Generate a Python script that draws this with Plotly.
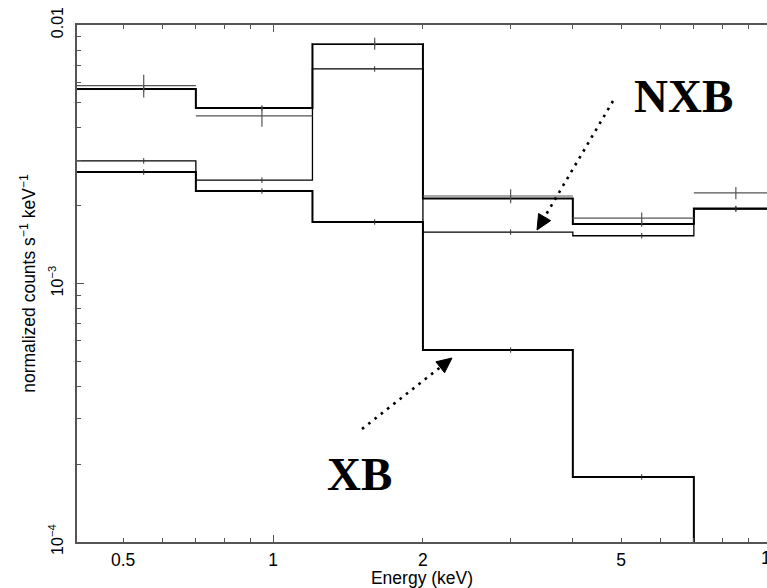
import plotly.graph_objects as go

# ---- data ----
bin_lo = [0.4, 0.7, 1.2, 2.0, 4.0, 7.0]
bin_hi = [0.7, 1.2, 2.0, 4.0, 7.0, 10.0]
bin_center = [0.55, 0.95, 1.6, 3.0, 5.5, 8.5]

data_rate = [5.83e-3, 4.45e-3, 8.48e-3, 2.18e-3, 1.79e-3, 2.24e-3]
data_err = [0.59e-3, 0.41e-3, 0.45e-3, 0.135e-3, 0.093e-3, 0.123e-3]

total_model = [5.66e-3, 4.77e-3, 8.44e-3, 2.13e-3, 1.70e-3, 1.95e-3]
nxb_model = [2.98e-3, 2.51e-3, 6.76e-3, 1.58e-3, 1.53e-3, 1.94e-3]
xb_model = [2.70e-3, 2.28e-3, 1.73e-3, 5.53e-4, 1.785e-4, 3.0e-5]

x_tick_vals = [0.5, 1, 2, 5, 10]
x_tick_text = ["0.5", "1", "2", "5", "10"]
x_minor_vals = [0.6, 0.7, 0.8, 0.9, 3, 4, 6, 7, 8, 9]
y_tick_vals = [1e-4, 1e-3, 1e-2]
y_tick_text = ["10<sup>−4</sup>", "10<sup>−3</sup>", "0.01"]
y_minor_vals = [2e-4, 3e-4, 4e-4, 5e-4, 6e-4, 7e-4, 8e-4, 9e-4,
                2e-3, 3e-3, 4e-3, 5e-3, 6e-3, 7e-3, 8e-3, 9e-3]

# ---- layout geometry ----
W, H = 767, 588
ML, MR, MT, MB = 77, 0, 25, 46
PW, PH = W - ML - MR, H - MT - MB
DECADE_PX = 498.0
XRANGE = [-0.3936, -0.3936 + PW / DECADE_PX]
YRANGE = [-4, -2]

AXCOL = "#555555"
FONT = "Liberation Sans, Arial, sans-serif"
FS = 17.5

fig = go.Figure()

step_x = bin_lo + [bin_hi[-1]]


def step(vals, width, name, xaxis="x"):
    fig.add_trace(go.Scatter(
        x=step_x, y=vals + [vals[-1]], mode="lines", line_shape="hv",
        line=dict(color="black", width=width), name=name, showlegend=False,
        hoverinfo="skip", xaxis=xaxis))
    fig.add_trace(go.Scatter(
        x=bin_center, y=vals, mode="markers",
        marker=dict(symbol="line-ns", size=4, line=dict(color="#333", width=1)),
        showlegend=False, hoverinfo="skip", xaxis=xaxis))


step(nxb_model, 1.3, "NXB")
step(xb_model, 2.0, "XB", xaxis="x2")
step(total_model, 2.0, "total")

fig.add_trace(go.Scatter(
    x=bin_center, y=data_rate, mode="markers", marker=dict(size=1, color="rgba(0,0,0,0)"),
    error_x=dict(type="data", symmetric=False,
                 array=[h - c for h, c in zip(bin_hi, bin_center)],
                 arrayminus=[c - l for l, c in zip(bin_lo, bin_center)],
                 color="#555", thickness=1.2, width=0),
    error_y=dict(type="data", array=data_err, color="#555", thickness=1.2, width=0),
    showlegend=False, hoverinfo="skip"))


def px(xp):
    return (xp - ML) / PW


def py(yp):
    return (MT + PH - yp) / PH


shapes = []


def dotted_arrow(tail, tip, head_len=15.0, half_w=7.0):
    dx, dy = tip[0] - tail[0], tip[1] - tail[1]
    L = (dx * dx + dy * dy) ** 0.5
    ux, uy = dx / L, dy / L
    bx, by = tip[0] - head_len * ux, tip[1] - head_len * uy
    nx, ny = -uy, ux
    shapes.append(dict(type="line", xref="paper", yref="paper",
                       x0=px(tail[0]), y0=py(tail[1]), x1=px(bx), y1=py(by),
                       line=dict(color="black", width=2.6, dash="2.6px,5.4px")))
    p1 = (bx + half_w * nx, by + half_w * ny)
    p2 = (bx - half_w * nx, by - half_w * ny)
    path = "M {} {} L {} {} L {} {} Z".format(px(tip[0]), py(tip[1]), px(p1[0]), py(p1[1]),
                                               px(p2[0]), py(p2[1]))
    shapes.append(dict(type="path", xref="paper", yref="paper", path=path,
                       fillcolor="black", line=dict(color="black", width=1)))


dotted_arrow((613, 101), (537, 230))
dotted_arrow((362, 429), (452, 358))

# "10" tick label of the x axis sits just past the right edge (cut off in the reference)
ten_x = px(ML + (1.0 - XRANGE[0]) * DECADE_PX)

annotations = [
    dict(text="<b>NXB</b>", xref="paper", yref="paper", x=px(683), y=py(96),
         xanchor="center", yanchor="middle", showarrow=False,
         font=dict(family="Liberation Serif, serif", size=47, color="black")),
    dict(text="<b>XB</b>", xref="paper", yref="paper", x=px(359.5), y=py(474),
         xanchor="center", yanchor="middle", showarrow=False,
         font=dict(family="Liberation Serif, serif", size=47, color="black")),
    dict(text="10", xref="paper", yref="paper", x=ten_x, y=py(558),
         xanchor="center", yanchor="middle", showarrow=False,
         font=dict(family=FONT, size=FS, color="black")),
]

fig.update_layout(
    width=W, height=H,
    margin=dict(l=ML, r=MR, t=MT, b=MB, pad=0),
    paper_bgcolor="white", plot_bgcolor="white",
    font=dict(family=FONT, size=FS, color="black"),
    shapes=shapes, annotations=annotations,
    xaxis=dict(type="log", range=XRANGE, showgrid=False, zeroline=False,
               showline=True, linecolor=AXCOL, linewidth=1.5, mirror="allticks",
               ticks="inside", ticklen=4, tickwidth=1.2, tickcolor=AXCOL,
               tickvals=x_tick_vals, ticktext=x_tick_text,
               tickfont=dict(size=FS), ticklabelstandoff=1,
               minor=dict(ticks="inside", ticklen=4, tickwidth=1.2, tickcolor=AXCOL,
                          tickvals=x_minor_vals, showgrid=False),
               title=dict(text="Energy (keV)", font=dict(size=FS), standoff=1)),
    xaxis2=dict(type="log", range=XRANGE, overlaying="x", anchor="y", side="bottom",
                showgrid=False, zeroline=False, showline=False, mirror="ticks",
                ticks="inside", ticklen=7, tickwidth=1.2, tickcolor=AXCOL,
                tickvals=[1, 10], showticklabels=False),
    yaxis=dict(type="log", range=YRANGE, showgrid=False, zeroline=False,
               showline=True, linecolor=AXCOL, linewidth=1.5, mirror=False,
               ticks="inside", ticklen=7, tickwidth=1.2, tickcolor=AXCOL,
               tickvals=y_tick_vals, ticktext=y_tick_text, tickangle=-90,
               tickfont=dict(size=16), ticklabelstandoff=6,
               minor=dict(ticks="inside", ticklen=4, tickwidth=1.2, tickcolor=AXCOL,
                          tickvals=y_minor_vals, showgrid=False),
               title=dict(text="normalized counts s<sup>−1</sup> keV<sup>−1</sup>",
                          font=dict(size=FS), standoff=6)),
)

fig.write_html("out.html")
